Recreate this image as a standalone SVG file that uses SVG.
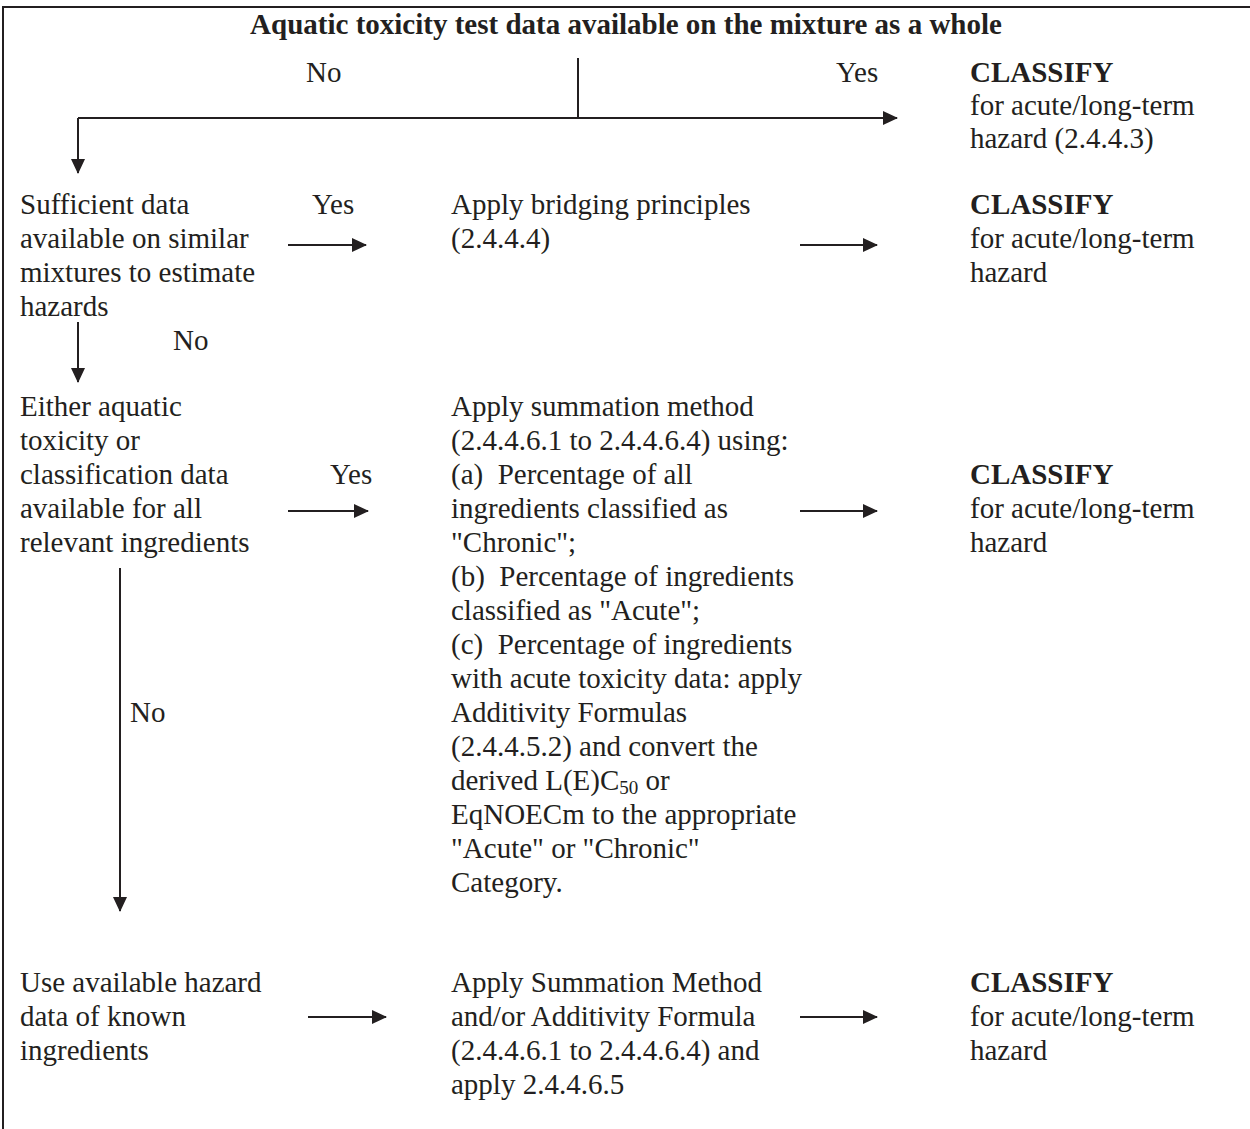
<svg xmlns="http://www.w3.org/2000/svg" width="1250" height="1129" viewBox="0 0 1250 1129">
<style>
text{font-family:"Liberation Serif","Times New Roman",serif;font-size:29px;fill:#231f20}
.b{font-weight:bold}
.ln{stroke:#231f20;stroke-width:2;fill:none}
</style>
<defs>
<marker id="ah" viewBox="0 0 15 14" refX="14" refY="7" markerWidth="15" markerHeight="14" markerUnits="userSpaceOnUse" orient="auto">
<path d="M0,0 L15,7 L0,14 Z" fill="#231f20"/>
</marker>
</defs>
<rect width="1250" height="1129" fill="#fff"/>
<g id="frame">
<path class="ln" d="M3,1129 V7 H1250" stroke-width="2.5"/>
</g>
<g id="title"><text class="b" x="626" y="34" text-anchor="middle">Aquatic toxicity test data available on the mixture as a whole</text></g>
<g id="classify1"><text class="b" x="970" y="82">CLASSIFY</text><text x="970" y="115">for acute/long-term</text><text x="970" y="148">hazard (2.4.4.3)</text></g>
<g id="similar"><text x="20" y="214">Sufficient data</text><text x="20" y="248">available on similar</text><text x="20" y="282">mixtures to estimate</text><text x="20" y="316">hazards</text></g>
<g id="bridging"><text x="451" y="214">Apply bridging principles</text><text x="451" y="248">(2.4.4.4)</text></g>
<g id="classify2"><text class="b" x="970" y="214">CLASSIFY</text><text x="970" y="248">for acute/long-term</text><text x="970" y="282">hazard</text></g>
<g id="either"><text x="20" y="416">Either aquatic</text><text x="20" y="450">toxicity or</text><text x="20" y="484">classification data</text><text x="20" y="518">available for all</text><text x="20" y="552">relevant ingredients</text></g>
<g id="summation">
<text x="451" y="416">Apply summation method</text>
<text x="451" y="450">(2.4.4.6.1 to 2.4.4.6.4) using:</text>
<text x="451" y="484" xml:space="preserve">(a)  Percentage of all</text>
<text x="451" y="518">ingredients classified as</text>
<text x="451" y="552">"Chronic";</text>
<text x="451" y="586" xml:space="preserve">(b)  Percentage of ingredients</text>
<text x="451" y="620">classified as "Acute";</text>
<text x="451" y="654" xml:space="preserve">(c)  Percentage of ingredients</text>
<text x="451" y="688">with acute toxicity data: apply</text>
<text x="451" y="722">Additivity Formulas</text>
<text x="451" y="756">(2.4.4.5.2) and convert the</text>
<text x="451" y="790">derived L(E)C<tspan font-size="19" dy="4">50</tspan><tspan dy="-4"> or</tspan></text>
<text x="451" y="824">EqNOECm to the appropriate</text>
<text x="451" y="858">"Acute" or "Chronic"</text>
<text x="451" y="892">Category.</text>
</g>
<g id="classify3"><text class="b" x="970" y="484">CLASSIFY</text><text x="970" y="518">for acute/long-term</text><text x="970" y="552">hazard</text></g>
<g id="known"><text x="20" y="992">Use available hazard</text><text x="20" y="1026">data of known</text><text x="20" y="1060">ingredients</text></g>
<g id="summation2"><text x="451" y="992">Apply Summation Method</text><text x="451" y="1026">and/or Additivity Formula</text><text x="451" y="1060">(2.4.4.6.1 to 2.4.4.6.4) and</text><text x="451" y="1094">apply 2.4.4.6.5</text></g>
<g id="classify4"><text class="b" x="970" y="992">CLASSIFY</text><text x="970" y="1026">for acute/long-term</text><text x="970" y="1060">hazard</text></g>
<g id="connectors">
<path class="ln" d="M578,58 V118"/>
<path class="ln" d="M78,118 H897" marker-end="url(#ah)"/>
<path class="ln" d="M78,118 V173" marker-end="url(#ah)"/>
<path class="ln" d="M288,245 H366" marker-end="url(#ah)"/>
<path class="ln" d="M800,245 H877" marker-end="url(#ah)"/>
<path class="ln" d="M78,322 V382" marker-end="url(#ah)"/>
<path class="ln" d="M288,511 H368" marker-end="url(#ah)"/>
<path class="ln" d="M800,511 H877" marker-end="url(#ah)"/>
<path class="ln" d="M120,568 V911" marker-end="url(#ah)"/>
<path class="ln" d="M308,1017 H386" marker-end="url(#ah)"/>
<path class="ln" d="M800,1017 H877" marker-end="url(#ah)"/>
</g>
<g id="labels">
<text x="306" y="82">No</text>
<text x="836" y="82">Yes</text>
<text x="312" y="214">Yes</text>
<text x="173" y="350">No</text>
<text x="330" y="484">Yes</text>
<text x="130" y="722">No</text>
</g>
</svg>
